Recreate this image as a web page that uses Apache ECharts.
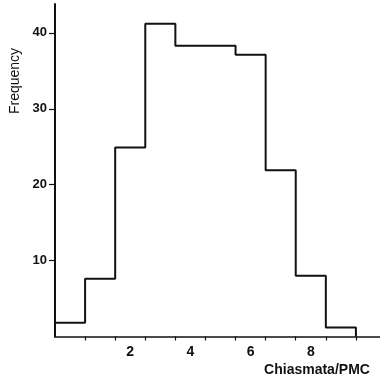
<!DOCTYPE html>
<html>
<head>
<meta charset="utf-8">
<script src="https://cdn.jsdelivr.net/npm/echarts@6/dist/echarts.min.js"></script>
<style>
  html, body { margin: 0; padding: 0; background: #fff; }
  #chart { width: 380px; height: 381px; }
</style>
</head>
<body>
<div id="chart"></div>
<script>
// chiasmata per PMC (bin centres) and observed frequency
const chiasmata = [0, 1, 2, 3, 4, 5, 6, 7, 8, 9];
const frequency = [1.8, 7.6, 24.9, 41.2, 38.3, 38.3, 37.1, 21.9, 8.0, 1.2];
const xTickLabels = [2, 4, 6, 8];
const yTickLabels = [10, 20, 30, 40];

// histogram outline: each bin runs from centre-0.5 to centre+0.5
const outline = [];
chiasmata.forEach((c, i) => {
  outline.push([c - 0.5, frequency[i]]);
  outline.push([c + 0.5, frequency[i]]);
});
const last = chiasmata[chiasmata.length - 1];
outline.push([last + 0.5, 0]);

// ticks sit on the bin edges
const binEdges = chiasmata.map(c => c + 0.5);

const ink = '#111';
const font = 'Liberation Sans, Arial, sans-serif';

const chart = echarts.init(document.getElementById('chart'));
chart.setOption({
  animation: false,
  grid: { left: 55, right: 0, top: 4, bottom: 44.5 },
  xAxis: {
    type: 'value',
    min: -0.5,
    max: 10.3,
    axisLine: { show: true, onZero: false, lineStyle: { color: ink, width: 1.6 } },
    axisTick: { show: true, length: 4, customValues: binEdges, lineStyle: { color: ink, width: 1.2 } },
    axisLabel: {
      customValues: xTickLabels,
      margin: 9,
      color: ink,
      fontFamily: font,
      fontWeight: 'bold',
      fontSize: 14
    },
    splitLine: { show: false }
  },
  yAxis: {
    type: 'value',
    min: 0,
    max: 43.8,
    axisLine: { show: true, onZero: false, lineStyle: { color: ink, width: 2 } },
    axisTick: { show: true, length: 6, customValues: yTickLabels, lineStyle: { color: ink, width: 1.2 } },
    axisLabel: {
      customValues: yTickLabels,
      margin: 8,
      color: ink,
      fontFamily: font,
      fontWeight: 'bold',
      fontSize: 13
    },
    splitLine: { show: false }
  },
  graphic: [
    {
      type: 'text',
      x: 15,
      y: 81,
      rotation: Math.PI / 2,
      style: {
        text: 'Frequency',
        fill: ink,
        font: '14px ' + font,
        align: 'center',
        verticalAlign: 'middle'
      }
    },
    {
      type: 'text',
      x: 317,
      y: 370,
      style: {
        text: 'Chiasmata/PMC',
        fill: ink,
        font: 'bold 14px ' + font,
        align: 'center',
        verticalAlign: 'middle'
      }
    }
  ],
  series: [
    {
      type: 'line',
      data: outline,
      symbol: 'none',
      lineStyle: { color: ink, width: 2 },
      z: 3
    }
  ]
});
</script>
</body>
</html>
